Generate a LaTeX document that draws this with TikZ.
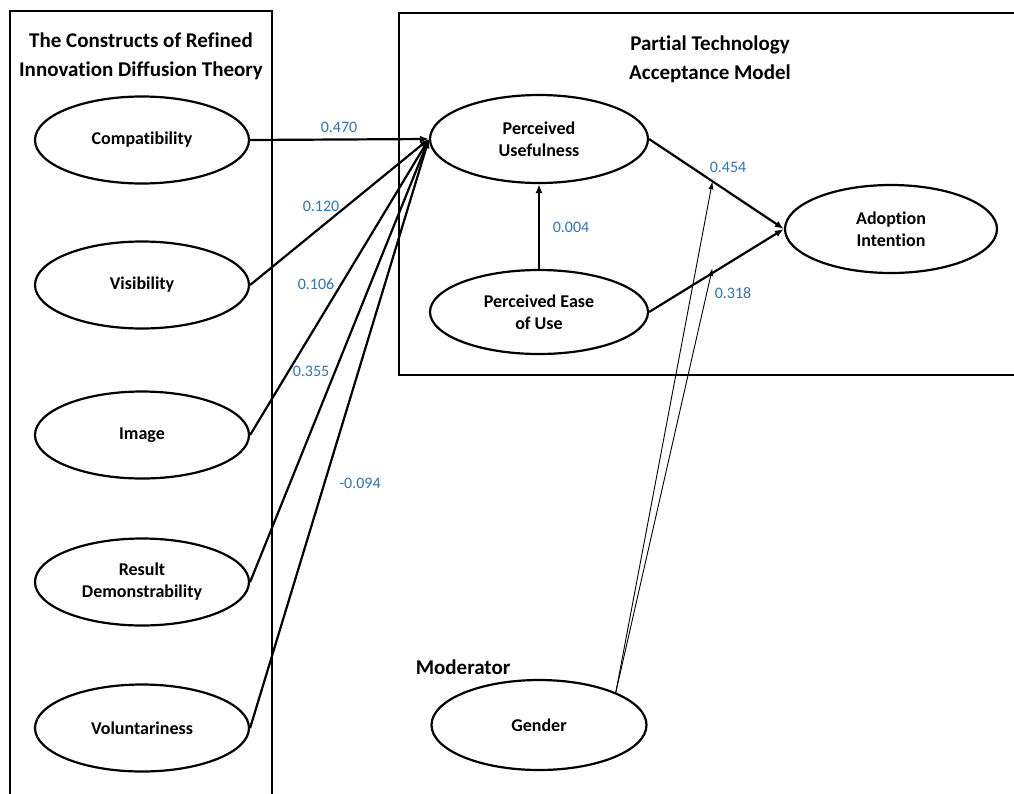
\documentclass[tikz,border=0pt]{standalone}
\usepackage{fontspec}
\setmainfont{Carlito}[Ligatures=NoCommon]
\usetikzlibrary{shapes.geometric,arrows.meta}
\definecolor{lblblue}{RGB}{46,117,182}
\begin{document}
\begin{tikzpicture}[x=1pt,y=-1pt,
  construct/.style={ellipse,draw,line width=2.2pt,minimum width=214pt,minimum height=87pt,inner sep=0pt,align=center,font=\fontsize{18}{22}\selectfont\bfseries},
  heading/.style={align=center,font=\fontsize{21}{29}\selectfont\bfseries},
  coef/.style={text=lblblue,font=\fontsize{16}{19}\selectfont,inner sep=0pt},
  effect/.style={line width=2.2pt,-{Latex[length=9pt,width=7pt]}},
  modeff/.style={line width=0.9pt,-{Latex[length=8pt,width=5pt]}},
  boxline/.style={line width=2.5pt}]
\useasboundingbox (0,0) rectangle (1014,793);
\clip (0,0) rectangle (1014,793);
\fill[white] (0,0) rectangle (1014,793);

% frames
\draw[boxline] (10,11) rectangle (272,820);
\draw[boxline] (399,13) rectangle (1030,375);

% headings
\node[heading] (tleft) at (141,56) {The Constructs of Refined\\Innovation Diffusion Theory};
\node[heading] (tright) at (710,59) {Partial Technology\\Acceptance Model};
\node[heading,anchor=center] (modlbl) at (463,667) {Moderator};

% constructs
\node[construct] (comp) at (142,140) {Compatibility};
\node[construct] (vis) at (142,285) {Visibility};
\node[construct] (img) at (142,435) {Image};
\node[construct] (rd) at (142,582) {Result\\Demonstrability};
\node[construct] (vol) at (142,728) {Voluntariness};

\node[construct,minimum width=218pt,minimum height=88pt] (pu) at (539,139) {Perceived\\Usefulness};
\node[construct,minimum width=218pt,minimum height=84pt] (peu) at (539,312) {Perceived Ease\\of Use};
\node[construct,minimum width=212pt,minimum height=88pt] (ai) at (891,229) {Adoption\\Intention};
\node[construct,minimum width=215pt,minimum height=90pt] (gen) at (539,725) {Gender};

% effects
\draw[effect] (comp.east) -- (pu.west);
\draw[effect] (vis.east) -- (pu.west);
\draw[effect] (img.east) -- (pu.west);
\draw[effect] (rd.east) -- (pu.west);
\draw[effect] (vol.east) -- (pu.west);
\draw[effect] (peu.north) -- (pu.south);
\draw[effect] (pu.east) -- (ai.west) coordinate[pos=0.47] (m1);
\draw[effect] (peu.east) -- (ai.west) coordinate[pos=0.47] (m2);
\coordinate (m2b) at ([yshift=5pt]m2);

% moderation
\draw[modeff] (gen.23) -- (m1);
\draw[modeff] (gen.23) -- (m2b);

% coefficients
\node[coef] (c1) at (339,127) {0.470};
\node[coef] (c2) at (321,206) {0.120};
\node[coef] (c3) at (316,284) {0.106};
\node[coef] (c4) at (311,371) {0.355};
\node[coef] (c5) at (360,483) {-0.094};
\node[coef] (c6) at (571,227) {0.004};
\node[coef] (c7) at (728,167) {0.454};
\node[coef] (c8) at (733,293) {0.318};
\end{tikzpicture}
\end{document}
